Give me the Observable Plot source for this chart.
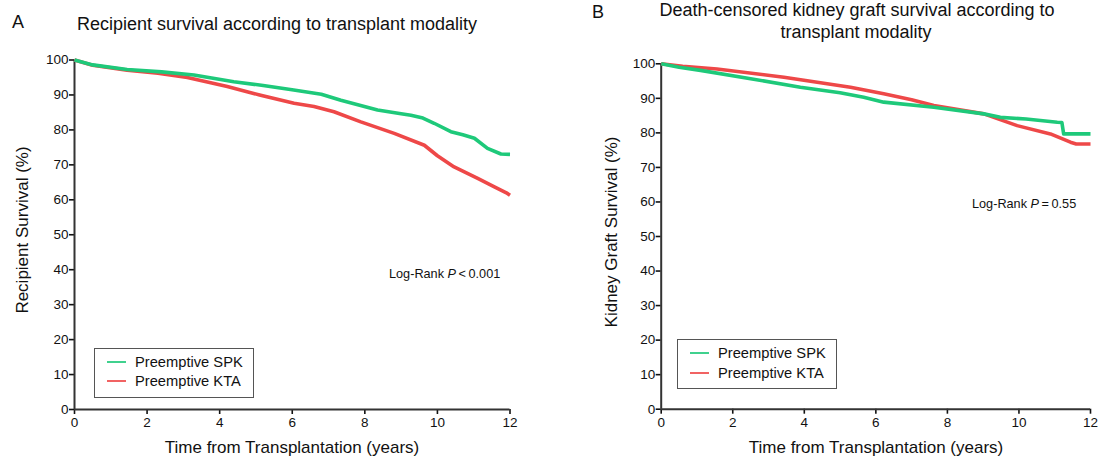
<!DOCTYPE html>
<html><head><meta charset="utf-8">
<script src="https://cdn.jsdelivr.net/npm/d3@7"></script>
<script src="https://cdn.jsdelivr.net/npm/@observablehq/plot@0.6"></script>
<style>
body{margin:0;background:#fff;font-family:"Liberation Sans",Arial,Helvetica,sans-serif;color:#111}
#wrap{position:relative;width:1104px;height:463px;overflow:hidden}
.panel{position:absolute;top:0}
.t{position:absolute;white-space:nowrap;transform:translate(-50%,-50%);line-height:1}
.l{position:absolute;white-space:nowrap;transform:translate(0,-50%);line-height:1}
.legend{position:absolute;border:1px solid #555;background:#fff;box-sizing:border-box}
.sw{position:absolute;height:2px}
</style></head>
<body><div id="wrap"></div>
<script>
// ---- data ----
const seriesNames = ["Preemptive SPK", "Preemptive KTA"];
const seriesColors = ["#1ec97a", "#ee4848"];
const xTicks = [0, 2, 4, 6, 8, 10, 12];
const yTicks = [0, 10, 20, 30, 40, 50, 60, 70, 80, 90, 100];

// Panel A: recipient survival
const tA_SPK = [0, 0.5, 1.45, 2.4, 3.29, 4.39, 5.2, 6.04, 6.8, 7.34, 8.35, 9.0, 9.27, 9.6, 9.91, 10.37, 10.7, 11.02, 11.38, 11.75, 12];
const sA_SPK = [100, 98.6, 97.3, 96.6, 95.7, 93.8, 92.7, 91.4, 90.2, 88.5, 85.7, 84.6, 84.2, 83.4, 81.9, 79.5, 78.6, 77.6, 74.7, 73.1, 73.0];
const tA_KTA = [0, 0.5, 1.45, 2.3, 3.11, 4.21, 5.1, 6.05, 6.6, 7.15, 7.89, 8.81, 9.64, 10.0, 10.46, 11.11, 11.57, 11.9, 12];
const sA_KTA = [100, 98.5, 97.1, 96.2, 95.0, 92.4, 90.0, 87.6, 86.7, 85.2, 82.3, 79.0, 75.6, 72.6, 69.4, 66.1, 63.7, 62.0, 61.3];

// Panel B: death-censored kidney graft survival
const tB_SPK = [0, 0.5, 1.1, 2.5, 3.89, 5.0, 5.66, 6.22, 7.62, 9.02, 9.48, 10.2, 11.07, 11.2, 11.25, 12];
const sB_SPK = [100, 99.0, 98.1, 95.7, 93.2, 91.6, 90.3, 88.9, 87.4, 85.5, 84.5, 84.0, 83.1, 83.0, 79.7, 79.7];
const tB_KTA = [0, 0.6, 1.56, 3.43, 5.29, 6.22, 7.0, 7.62, 9.02, 9.95, 10.88, 11.44, 11.6, 12];
const sB_KTA = [100, 99.3, 98.5, 96.1, 93.2, 91.3, 89.6, 87.9, 85.5, 82.1, 79.7, 77.3, 76.8, 76.8];

const rows = (t, s, name) => t.map((d, i) => ({t: d, v: s[i], series: name}));
const dataA = [...rows(tA_KTA, sA_KTA, seriesNames[1]), ...rows(tA_SPK, sA_SPK, seriesNames[0])];
const dataB = [...rows(tB_KTA, sB_KTA, seriesNames[1]), ...rows(tB_SPK, sB_SPK, seriesNames[0])];

function panel(data, m) {
  return Plot.plot({
    width: 552, height: 463,
    marginLeft: m.l, marginRight: m.r, marginTop: m.t, marginBottom: m.b,
    style: {fontFamily: '"Liberation Sans", Arial, sans-serif', fontSize: "13.5px", color: "#111", background: "transparent"},
    x: {domain: [0, 12]},
    y: {domain: [0, 100]},
    color: {domain: seriesNames, range: seriesColors},
    marks: [
      Plot.axisX({ticks: xTicks, tickSize: 5, tickPadding: 3, label: null, strokeWidth: 1.6, fontSize: 13.5}),
      Plot.axisY({ticks: yTicks, tickSize: 5, tickPadding: 1, label: null, strokeWidth: 1.6, fontSize: 13.5}),
      Plot.ruleX([0], {y1: 0, y2: 100, stroke: "#333", strokeWidth: 2}),
      Plot.ruleY([0], {x1: 0, x2: 12, stroke: "#333", strokeWidth: 2}),
      Plot.line(data, {x: "t", y: "v", z: "series", stroke: "series", strokeWidth: 3.6, strokeLinejoin: "round", strokeLinecap: "butt"})
    ]
  });
}

const wrap = document.getElementById("wrap");
const pA = panel(dataA, {l: 74, r: 42.5, t: 59.5, b: 54});
pA.classList.add("panel"); pA.style.left = "0px";
const pB = panel(dataB, {l: 108.7, r: 14, t: 63.3, b: 54.3});
pB.classList.add("panel"); pB.style.left = "552px";
wrap.appendChild(pA); wrap.appendChild(pB);

function txt(html, x, y, size, cls = "t", extra = "") {
  const d = document.createElement("div");
  d.className = cls; d.innerHTML = html;
  d.style.left = x + "px"; d.style.top = y + "px"; d.style.fontSize = size + "px";
  if (extra) d.style.cssText += extra;
  wrap.appendChild(d); return d;
}
// titles
txt("A", 18, 22, 18);
txt("Recipient survival according to transplant modality", 277, 24, 18);
txt("B", 598, 12, 18);
txt("Death-censored kidney graft survival according to", 857, 10, 18);
txt("transplant modality", 856, 32, 18);
// axis titles
txt("Time from Transplantation (years)", 292, 447, 17);
txt("Time from Transplantation (years)", 876, 447, 17);
txt("Recipient Survival (%)", 22, 230, 17, "t", "transform:translate(-50%,-50%) rotate(-90deg)");
txt("Kidney Graft Survival (%)", 611, 232, 17, "t", "transform:translate(-50%,-50%) rotate(-90deg)");
// log-rank
txt("Log-Rank <i>P</i>&thinsp;&lt;&thinsp;0.001", 389, 274, 12.7, "l");
txt("Log-Rank <i>P</i>&thinsp;=&thinsp;0.55", 972, 204, 12.7, "l");

function legend(x, y, w, h, lx, ly1, ly2) {
  const b = document.createElement("div");
  b.className = "legend";
  b.style.left = x + "px"; b.style.top = y + "px"; b.style.width = w + "px"; b.style.height = h + "px";
  wrap.appendChild(b);
  [ly1, ly2].forEach((ly, i) => {
    const s = document.createElement("div");
    s.className = "sw"; s.style.left = lx + "px"; s.style.top = (ly - 1) + "px"; s.style.width = "19px";
    s.style.background = seriesColors[i]; s.style.opacity = 0.85;
    wrap.appendChild(s);
    txt(seriesNames[i], lx + 28, ly, 14.7, "l");
  });
}
legend(94, 348, 160, 50, 107, 362, 381);
legend(677, 339, 160, 50, 690, 353, 372.5);
</script></body></html>
